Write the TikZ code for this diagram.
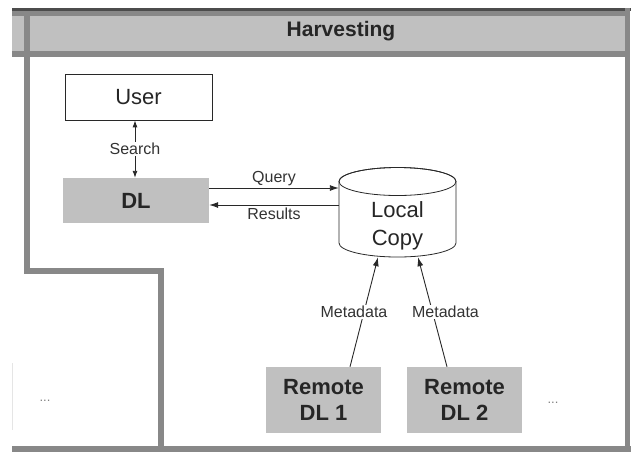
\documentclass[tikz,border=0pt]{standalone}
\usepackage{fontspec}
\setmainfont{Liberation Sans}
\usetikzlibrary{positioning, calc, arrows.meta}
\definecolor{framegray}{RGB}{136,136,136}
\definecolor{fillgray}{RGB}{192,192,192}
\definecolor{inkgray}{RGB}{40,40,40}
\tikzstyle{Arrow} = [
%Thin dark arrow between the boxes:
draw=inkgray, line width=0.9pt,
-{Latex[length=9pt, width=6pt]}
]

\begin{document}
\begin{tikzpicture}[x=1pt, y=-1pt,
				rim/.style = {draw=framegray, line width=5.5pt},
				whitebox/.style = {rectangle, draw=inkgray, line width=0.8pt, fill=white, text=black!85, minimum width=147pt, minimum height=46pt, font=\fontsize{22}{26}\selectfont},
				greybox/.style = {rectangle, fill=fillgray, text=black!85, align=center, minimum width=115pt, minimum height=66pt, font=\fontsize{22}{26}\selectfont\bfseries},
				edgetext/.style = {fill=white, inner sep=1pt, text=black!80, font=\fontsize{16}{18}\selectfont},
				ellip/.style = {text=gray, font=\fontsize{13}{14}\selectfont},
			]
			\useasboundingbox (0,0) rectangle (631,451);

			% header band and frame
			\fill[fillgray] (12,11) rectangle (627,54);
			\draw[draw=framegray, line width=5pt] (12,13.5) -- (627,13.5);
			\draw[draw=black!70, line width=3pt] (12,9.5) -- (631,9.5);
			\draw[rim] (12,54) -- (627,54);
			\draw[rim] (27,11) -- (27,271) -- (161,271) -- (161,451);
			\draw[rim] (627.5,8) -- (627.5,451);
			\draw[rim] (12,449) -- (631,449);
			\draw[gray!20, line width=1pt] (12,363) -- (12,430);
			\node[font=\fontsize{21}{24}\selectfont\bfseries, text=black!85](H) at (341,31){Harvesting};

			% local copy drawn as a cylinder
			\draw[draw=inkgray, line width=0.8pt, fill=white] (339,181.5) -- (339,243)
				arc[start angle=180, end angle=0, x radius=58.5, y radius=14] -- (456,181.5)
				arc[start angle=0, end angle=-180, x radius=58.5, y radius=14] -- cycle;
			\draw[draw=inkgray, line width=0.8pt] (397.5,181.5) ellipse [x radius=58.5, y radius=14];

			\node[whitebox](U) at (138.5,97){User};
			\node[greybox, minimum width=146pt, minimum height=45pt](DL) at (136,200.5){DL};
			\node[minimum width=117pt, minimum height=62pt, inner sep=0pt, align=center, text=black!85, font=\fontsize{22}{28}\selectfont](LC) at (397.5,226){Local\\Copy};
			\node[greybox](R1) at (323.5,400){Remote\\DL 1};
			\node[greybox](R2) at (464.5,400){Remote\\DL 2};
			\node[ellip](E1) at (45,401){...};
			\node[ellip](E2) at (553,403){...};

			\coordinate (q) at ($(DL.east)+(0,-12.5)$);
			\coordinate (r) at ($(DL.east)+(0,4.5)$);

			\draw[Arrow, {Latex[length=7pt, width=5pt]}-{Latex[length=7pt, width=5pt]}]($(U.south)+(-3.5,0)$)--node[midway, edgetext] {Search}($(DL.north)+(-1,0)$);
			\draw[Arrow](q)--node[midway, above=1pt, edgetext, fill=none] {Query}(q -| LC.west);
			\draw[Arrow](r -| LC.west)--node[midway, below=1pt, edgetext, fill=none] {Results}(r);
			\draw[Arrow]($(R1.north)+(26.5,0)$)--node[pos=0.5, edgetext, xshift=-10pt] {Metadata}($(LC.south)+(-19.5,0)$);
			\draw[Arrow]($(R2.north)+(-17.5,0)$)--node[pos=0.5, edgetext, xshift=13pt] {Metadata}($(LC.south)+(20.5,0)$);

		\end{tikzpicture}
\end{document}
